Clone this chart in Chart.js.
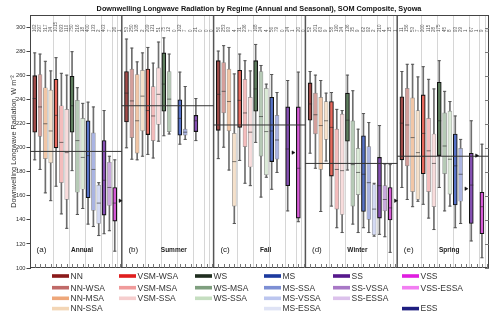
<!DOCTYPE html>
<html>
<head>
<meta charset="utf-8">
<script src="https://cdn.jsdelivr.net/npm/chart.js@4.4.1/dist/chart.umd.min.js"></script>
<style>
html, body { margin: 0; padding: 0; background: #fff; }
#wrap { width: 500px; height: 318px; }
</style>
</head>
<body>
<div id="wrap"><canvas id="c" width="500" height="318"></canvas></div>
<script>
// box slots in each panel, left to right
const regimes = ['NN', 'NN-WSA', 'NN-MSA', 'NN-SSA', 'VSM-WSA', 'VSM-MSA', 'VSM-SSA',
    'WS', 'WS-MSA', 'WS-SSA', 'MS', 'MS-SSA', 'MS-VSSA', 'SS', 'SS-VSSA', 'VSS', 'ESS'];
const seasons = ['Annual', 'Summer', 'Fall', 'Winter', 'Spring'];
const panelLetters = ['(a)', '(b)', '(c)', '(d)', '(e)'];

// [whisker low, q1, median, q3, whisker high]; a plain number = lone point; null = no data
const annual = [
    [190, 213, 241, 260, 279], [182, 209.5, 234, 261, 278], [162.5, 191, 220, 250, 272], [156, 187.5, 214, 248, 264],
    [168, 200, 227, 257, 275], [145, 171, 204.5, 235, 262], [133, 157, 196, 232, 260.5],
    [181, 213, 235, 259.5, 280], [144.5, 163, 206, 239.5, 250], [149.5, 165.5, 192, 224.5, 237],
    [136.5, 158.5, 193.5, 222.5, 238], [134.5, 148, 182, 212.5, 234], [127, 137, 154, 169, 171],
    [128.5, 144, 173, 206, 231], [131, 152, 167, 188, 193], [114, 139, 154, 167, 190], 156
];
const summer = [
    [200, 221.5, 245.5, 263.5, 290.5], [190.5, 208.5, 239, 265.5, 283], [190, 195.5, 222.5, 261, 271.5], [193, 214, 243, 264.5, 279],
    [194.5, 211, 231, 265.5, 283.5], [191.5, 206, 226.5, 251, 270.5], [205.5, 219.5, 244.5, 266.5, 288],
    [210, 230.5, 253, 279, 291.5], [211.5, 213.5, 240.5, 263.5, 278], null,
    [203, 210.5, 224.5, 240, 263], [207, 210.5, 213, 215.5, 251], null,
    [206, 213.5, 222.5, 227, 241], null, null, null
];
const fall = [
    [191, 214.5, 244.5, 272.5, 280.5], [200.5, 229, 247, 271, 285], [181.5, 214, 238.5, 265.5, 283.5], [137, 151.5, 188.5, 212, 261.5],
    [189.5, 217, 239.5, 264.5, 278], [170.5, 201, 229, 257, 272.5], [168.5, 184, 213, 242, 264],
    [204.5, 230.5, 249, 272.5, 286], [159, 193, 226, 263.5, 268.5], [175.5, 177.5, 213.5, 249.5, 253],
    [165.5, 188.5, 214, 242, 261], [179.5, 190.5, 206.5, 227, 246], null,
    [147.5, 168.5, 199, 234, 256], 196, [138.5, 141.5, 183, 234, 263], null
];
const winter = [
    [195.5, 223, 236.5, 254, 263.5], [183, 211.5, 227.5, 245.5, 260.5], [147, 182, 218.5, 242, 256], [189, 207, 222.5, 238.5, 245.5],
    [151.5, 176.5, 217, 238.5, 246], [133.5, 149, 182, 215.5, 232], [129.5, 144.5, 181, 228, 231],
    [181.5, 205.5, 223, 245.5, 260.5], [136.5, 151.5, 186, 222.5, 247.5], [129.5, 161, 179.5, 199.5, 215.5],
    [133.5, 147, 178, 210, 228.5], [129.5, 140.5, 171, 201, 221], [126.5, 127.5, 149, 169.5, 170.5],
    [128, 141.5, 168.5, 192, 218.5], [126, 147.5, 157, 168.5, 186.5], [113, 140, 150, 167, 186], 156
];
const spring = [
    [167, 190, 220.5, 242.5, 263.5], [157, 185, 219, 249.5, 269.5], [151, 163.5, 208.5, 241.5, 269.5], [155.5, 157, 196, 231, 259],
    [153, 178.5, 212, 244, 267.5], [141.5, 163.5, 197.5, 224.5, 257], [132, 151, 187, 211.5, 249],
    [167, 193.5, 222.5, 254.5, 272.5], [147.5, 178.5, 201.5, 229, 247], [151.5, 161.5, 190.5, 230.5, 238.5],
    [133.5, 152.5, 185, 211.5, 226.5], [137, 155.5, 178, 199.5, 207], 166,
    [122.5, 137, 169, 195.5, 222.5], 193.5, [108.5, 128.5, 151, 163, 203], null
];
const seasonMeans = [197, 235, 219, 187, 193];

// sample counts printed along the top
const annualN = [162, 297, 317, 24, 1015, 693, 110, 750, 216, 18, 400, 133, 2, 403, 7, 26, 1];
const summerN = [53, 250, 108, 2, 209, 121, 51, 75, 12, 0, 102, 7, 0, 21, 0, 0, 0];
const fallN   = [56, 253, 93, 4, 31, 236, 7, 168, 24, 4, 56, 79, 0, 24, 1, 20, 0];
const winterN = [52, 201, 63, 9, 58, 190, 24, 136, 35, 9, 62, 92, 2, 210, 4, 15, 1];
const springN = [11, 156, 53, 7, 200, 115, 28, 175, 45, 8, 93, 29, 1, 67, 1, 9, 0];

const seasonData = [annual, summer, fall, winter, spring];
const seasonCounts = [annualN, summerN, fallN, winterN, springN];

const boxColors = ['#a04a48', '#d49f9b', '#f1c6a6', '#f5e1cb', '#e8695d', '#f4bcbc', '#f8dcdc',
    '#5e7e5e', '#b6cab6', '#dbead7', '#5672c8', '#aab4e2', '#d4daf4', '#8650b4', '#c9a9dd', '#d65ad6', '#2a2a80'];
const mainRegimes = ['NN', 'VSM-WSA', 'WS', 'MS', 'SS', 'VSS', 'ESS'];

const legendColumns = [
    ['NN', 'NN-WSA', 'NN-MSA', 'NN-SSA'],
    ['VSM-WSA', 'VSM-MSA', 'VSM-SSA'],
    ['WS', 'WS-MSA', 'WS-SSA'],
    ['MS', 'MS-SSA', 'MS-VSSA', 'MS-ESSA'],
    ['SS', 'SS-VSSA', 'SS-ESSA'],
    ['VSS', 'VSS-ESSA', null, 'ESS']
];
const legendColors = {
    'NN': '#8b1a1a', 'NN-WSA': '#c06a68', 'NN-MSA': '#eea77a', 'NN-SSA': '#f3d6b6',
    'VSM-WSA': '#e01e1e', 'VSM-MSA': '#f09b9b', 'VSM-SSA': '#f6cece',
    'WS': '#1f2d1f', 'WS-MSA': '#7f9f7f', 'WS-SSA': '#c5dec0',
    'MS': '#1c3a9e', 'MS-SSA': '#7d8fd4', 'MS-VSSA': '#bcc6ef', 'MS-ESSA': '#dfe3f5',
    'SS': '#56188c', 'SS-VSSA': '#a878c6', 'SS-ESSA': '#dcc2ec',
    'VSS': '#e01ee0', 'VSS-ESSA': '#f27ef2', 'ESS': '#1e1e80'
};

const G = 17.2;      // width of one panel in slot units
const SLOT0 = 0.88;  // centre of first slot inside a panel
const familyBreaks = [4, 7, 10, 13, 15, 16];
const slotX = (g, i) => g * G + SLOT0 + i;

Chart.defaults.font.family = "'Liberation Sans', Arial, sans-serif";

const boxSets = regimes.map((name, i) => {
    const main = mainRegimes.includes(name);
    return {
        type: 'bar',
        label: name,
        data: seasonData.map((s, g) => Array.isArray(s[i]) ? { x: slotX(g, i), y: [s[i][1], s[i][3]] } : null).filter(Boolean),
        backgroundColor: boxColors[i],
        borderColor: main ? '#111' : 'rgba(120,120,120,0.75)',
        borderWidth: main ? 1.1 : 0.7,
        borderSkipped: false,
        barThickness: 4,
        grouped: false,
        order: 5
    };
});

const whiskers = [], caps = [], medians = [], lone = [];
seasonData.forEach((s, g) => s.forEach((v, i) => {
    if (Array.isArray(v)) {
        whiskers.push({ x: slotX(g, i), y: [v[0], v[4]] });
        caps.push({ x: slotX(g, i), y: v[0] }, { x: slotX(g, i), y: v[4] });
        medians.push({ x: slotX(g, i), y: v[2] });
    } else if (typeof v === 'number') {
        lone.push({ x: slotX(g, i), y: v });
    }
}));

const meanSets = seasonMeans.map((m, g) => ({
    type: 'line',
    data: [{ x: g * G, y: m }, { x: (g + 1) * G, y: m }],
    borderColor: '#333', borderWidth: 1, pointRadius: 0, order: 2
}));

function line(ctx, x1, y1, x2, y2) {
    ctx.beginPath(); ctx.moveTo(x1, y1); ctx.lineTo(x2, y2); ctx.stroke();
}

const decor = {
    id: 'decor',
    beforeDatasetsDraw(chart) {
        const { ctx, chartArea: a, scales: { x } } = chart;
        ctx.save();
        ctx.strokeStyle = '#d6d6d6';
        ctx.lineWidth = 1;
        for (let g = 0; g < 5; g++) {
            familyBreaks.forEach(k => {
                const px = Math.round(x.getPixelForValue(g * G + SLOT0 - 0.5 + k)) + 0.5;
                line(ctx, px, a.top, px, a.bottom);
            });
        }
        ctx.strokeStyle = '#555';
        ctx.lineWidth = 1.5;
        for (let g = 1; g < 5; g++) {
            const px = x.getPixelForValue(g * G);
            line(ctx, px, a.top, px, a.bottom);
        }
        ctx.restore();
    },
    afterDraw(chart) {
        const { ctx, chartArea: a, scales: { x, y } } = chart;
        ctx.save();
        // frame
        ctx.strokeStyle = '#444';
        ctx.lineWidth = 1;
        line(ctx, a.left, a.top + 0.5, a.right, a.top + 0.5);
        line(ctx, a.right - 0.5, a.top, a.right - 0.5, a.bottom);
        line(ctx, a.left, a.bottom - 0.5, a.right, a.bottom - 0.5);
        // inner ticks
        ctx.strokeStyle = '#777';
        y.ticks.forEach(t => {
            const py = Math.round(y.getPixelForValue(t.value)) + 0.5;
            line(ctx, a.right - 4, py, a.right, py);
        });
        for (let g = 0; g < 5; g++) {
            regimes.forEach((r, i) => {
                const px = Math.round(x.getPixelForValue(slotX(g, i))) + 0.5;
                line(ctx, px, a.bottom - 4, px, a.bottom);
            });
        }
        // counts
        ctx.fillStyle = '#555';
        ctx.font = "4.5px 'Liberation Sans', Arial, sans-serif";
        ctx.textAlign = 'left';
        ctx.textBaseline = 'middle';
        seasonCounts.forEach((counts, g) => counts.forEach((n, i) => {
            ctx.save();
            ctx.translate(x.getPixelForValue(slotX(g, i)), a.top + 17);
            ctx.rotate(-Math.PI / 2);
            ctx.fillText(String(n), 0, 0);
            ctx.restore();
        }));
        // panel labels
        ctx.fillStyle = '#222';
        ctx.textAlign = 'center';
        seasons.forEach((s, g) => {
            const x0 = x.getPixelForValue(g * G);
            ctx.font = "8px 'Liberation Sans', Arial, sans-serif";
            ctx.fillText(panelLetters[g], x0 + 11.5, 250);
            ctx.font = "bold 6.5px 'Liberation Sans', Arial, sans-serif";
            ctx.fillText(s, x0 + 52, 250);
        });
        // title
        ctx.font = "bold 7.3px 'Liberation Sans', Arial, sans-serif";
        ctx.fillStyle = '#111';
        ctx.fillText('Downwelling Longwave Radiation by Regime (Annual and Seasonal), SOM Composite, Syowa', 259, 9);
        // legend
        const colX = [52, 119, 195, 264, 333, 402];
        const rowY = [276, 287.7, 298.3, 308.6];
        ctx.font = "8.5px 'Liberation Sans', Arial, sans-serif";
        ctx.textAlign = 'left';
        legendColumns.forEach((col, c) => col.forEach((name, r) => {
            if (!name) return;
            const lx = colX[c], ly = rowY[r];
            ctx.fillStyle = legendColors[name];
            ctx.fillRect(lx, ly - 1.8, 17, 3.6);
            ctx.fillStyle = '#333';
            ctx.fillText(name, lx + 18.5, ly + 0.5);
        }));
        ctx.restore();
    }
};

new Chart(document.getElementById('c'), {
    type: 'bar',
    data: {
        datasets: [
            ...boxSets,
            { type: 'bar', data: whiskers, backgroundColor: '#6e6e6e', barThickness: 1, grouped: false, order: 10 },
            { type: 'scatter', data: caps, pointStyle: 'line', pointRadius: 1.6, pointBorderColor: '#555', pointBorderWidth: 1, order: 3 },
            { type: 'scatter', data: medians, pointStyle: 'line', pointRadius: 2, pointBorderColor: 'rgba(40,40,40,0.75)', pointBorderWidth: 0.8, order: 1 },
            { type: 'scatter', data: lone, pointStyle: 'triangle', rotation: 90, pointRadius: 2, pointBackgroundColor: '#111', pointBorderColor: '#111', pointBorderWidth: 0.5, order: 1 },
            ...meanSets
        ]
    },
    options: {
        responsive: false,
        animation: false,
        layout: { padding: { left: 0, right: 11, top: 15, bottom: 50 } },
        plugins: { legend: { display: false }, tooltip: { enabled: false } },
        scales: {
            x: { type: 'linear', min: 0, max: 5 * G, offset: false, display: false },
            y: {
                min: 100, max: 310.5,
                ticks: { stepSize: 20, font: { size: 5.7 }, color: '#333', padding: 1 },
                afterBuildTicks(s) { s.ticks = s.ticks.filter(t => t.value % 20 === 0); },
                grid: { drawOnChartArea: false, tickLength: 3.5, color: '#444' },
                border: { color: '#444' },
                title: { display: true, text: 'Downwelling Longwave Radiation, W m⁻²', font: { size: 7.3 }, color: '#333', padding: { top: 10, bottom: 0 } },
                afterFit(s) { s.width = 30; }
            }
        }
    },
    plugins: [decor]
});
</script>
</body>
</html>
